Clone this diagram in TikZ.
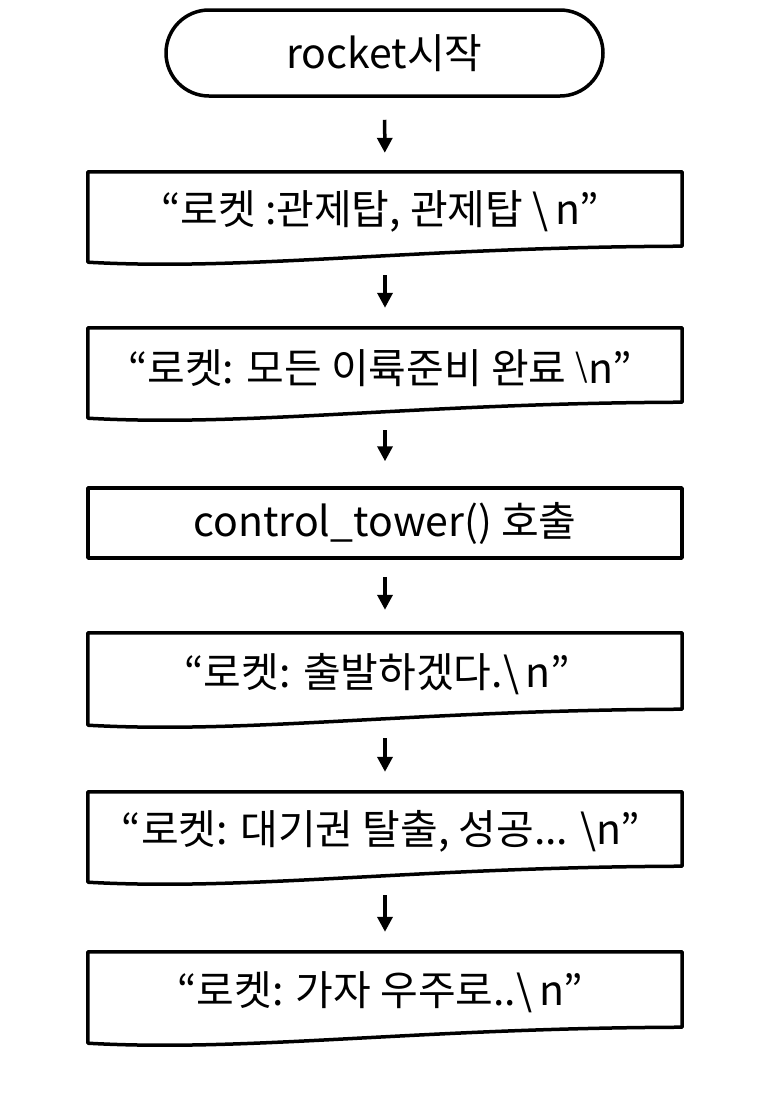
\documentclass[tikz,border=0pt]{standalone}
\usepackage{fontspec}
\setmainfont{Noto Sans CJK KR}
\usetikzlibrary{arrows.meta,calc}
\tikzset{
  shp/.style={draw=black, line width=3.5pt, line join=round},
  box/.style={inner sep=0pt, minimum width=594pt, font=\fontsize{41}{47}\selectfont},
  term/.style={shp, rounded corners=43pt, minimum width=437pt, minimum height=86pt, inner sep=0pt, font=\fontsize{41}{47}\selectfont},
  arr/.style={line width=3.5pt, -{Triangle[length=15pt,width=15pt]}}
}
\newcommand{\docpath}[1]{%
  \draw[shp] (#1.north west) -- (#1.north east) -- ([yshift=16pt]#1.south east)
    .. controls ($([yshift=16pt]#1.south east)+(-270,1)$) and ($(#1.south west)+(160,9)$) .. (#1.south west) -- cycle;}
\newcommand{\bsl}{\textbackslash}
\begin{document}
\begin{tikzpicture}[x=1pt,y=-1pt]
\useasboundingbox (0,0) rectangle (766,1109);
\fill[white] (0,0) rectangle (766,1109);
\node[term] (t) at (384.5,53) {rocket시작};
\node[box, minimum height=90pt] (d1) at (385,217) {};
\node[box, minimum height=90pt] (d2) at (385,373) {};
\node[box, minimum height=70pt, shp] (p3) at (385,523) {control\_tower() 호출};
\node[box, minimum height=92pt] (d4) at (385,679) {};
\node[box, minimum height=90pt] (d5) at (385,837) {};
\node[box, minimum height=91pt] (d6) at (385,997.5) {};
\docpath{d1}\docpath{d2}\docpath{d4}\docpath{d5}\docpath{d6}
\node[box, minimum height=0pt] (t1) at (380,211) {“로켓 :관제탑, 관제탑 \bsl\,n”};
\node[box, minimum height=0pt] (t2) at (380,368) {“로켓: 모든 이륙준비 완료 \raisebox{6pt}{\fontsize{32}{32}\selectfont\bsl}n”};
\node[box, minimum height=0pt] (t4) at (377,674) {“로켓: 출발하겠다.\bsl\,n”};
\node[box, minimum height=0pt] (t5) at (381,831) {“로켓: 대기권 탈출, 성공... \bsl n”};
\node[box, minimum height=0pt] (t6) at (380,992) {“로켓: 가자 우주로..\bsl\,n”};
\draw[arr, shorten <=22pt, shorten >=19pt] (t) -- (d1);
\draw[arr, shorten <=13pt, shorten >=20pt] (d1) -- (d2);
\draw[arr, shorten <=12pt, shorten >=25pt] (d2) -- (p3);
\draw[arr, shorten <=17pt, shorten >=23pt] (p3) -- (d4);
\draw[arr, shorten <=13pt, shorten >=20pt] (d4) -- (d5);
\draw[arr, shorten <=13pt, shorten >=20pt] (d5) -- (d6);
\end{tikzpicture}
\end{document}
